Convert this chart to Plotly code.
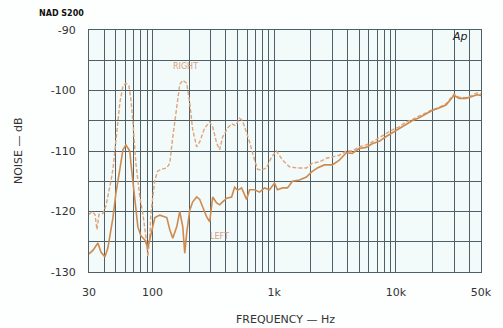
import plotly.graph_objects as go

# ---- data ----
right_freq = [30, 31.7, 33.6, 34.9, 36.2, 39.1, 41.4, 42.9, 45.4, 47.2, 49.9, 51.8, 53.8, 57.0, 60.3,
              63.8, 66.3, 68.8, 72.8, 78.5, 83.1, 88.0, 91.4, 94.9, 96.7, 100.4, 104.3, 110.3, 119.0,
              130.8, 138.4, 146.4, 158.0, 167.1, 176.9, 190.7, 201.9, 213.6, 230.4, 243.8, 267.9,
              294.4, 311.6, 336.0, 355.5, 376.2, 413.5, 445.9, 480.9, 518.6, 548.7, 591.8, 626.2,
              688.2, 728.3, 785.5, 863.3, 948.7, 1043, 1168, 1333, 1521, 1837, 2057, 2347, 2679,
              3000, 3424, 3907, 4376, 4993, 5698, 6381, 7283, 8312, 9311, 10624, 12125, 13581,
              15499, 17689, 19810, 22607, 25801, 28890, 30000, 32970, 37630, 42130, 46310, 50000]
right_db = [-120.5, -120.0, -120.5, -123.0, -120.5, -120.3, -119.0, -117.6, -115.0, -113.0, -108.0,
            -105.0, -102.0, -99.3, -98.8, -99.2, -101.5, -105.0, -112.0, -117.6, -120.3, -124.2,
            -127.5, -124.0, -120.5, -117.6, -114.8, -113.3, -113.0, -112.8, -112.0, -107.7, -102.1,
            -99.0, -98.3, -98.8, -102.1, -106.5, -109.3, -108.5, -106.2, -105.2, -106.0, -108.7,
            -109.8, -107.7, -106.2, -105.5, -105.8, -104.6, -105.0, -107.0, -108.5, -111.5, -113.0,
            -113.2, -112.8, -111.0, -110.0, -111.5, -112.6, -112.8, -112.8, -112.0, -111.8, -111.2,
            -111.0, -110.7, -110.0, -110.0, -109.3, -109.0, -108.5, -107.8, -107.0, -106.5, -106.0,
            -105.2, -104.8, -104.2, -103.6, -103.2, -102.8, -102.2, -101.0, -100.6, -101.1, -101.2,
            -100.8, -100.4, -100.6]

left_freq = [30, 32.4, 35.5, 37.6, 40.6, 42.9, 47.2, 49.9, 53.8, 57.0, 60.3, 65.0, 66.3, 71.5, 75.6,
             80.0, 86.3, 91.4, 96.7, 104.3, 114.6, 130.8, 138.4, 146.4, 158.0, 167.1, 176.9, 183.7,
             190.7, 201.9, 213.6, 230.4, 243.8, 258.0, 278.2, 294.4, 305.7, 311.6, 336.0, 355.5,
             376.2, 405.8, 445.9, 471.9, 499.4, 538.5, 591.8, 626.2, 688.2, 756.4, 831.3, 913.7,
             1004, 1062, 1168, 1283, 1410, 1609, 1837, 2018, 2260, 2580, 3000, 3424, 3907, 4376,
             4993, 5698, 6381, 7283, 8312, 9311, 10624, 12125, 13581, 15499, 17689, 19810, 22607,
             25801, 28890, 30000, 32970, 37630, 42130, 46310, 50000]
left_db = [-127.0, -126.4, -125.2, -126.7, -127.5, -126.0, -121.0, -117.0, -113.0, -109.8, -109.0,
           -110.0, -112.0, -118.6, -122.5, -124.0, -124.7, -126.0, -124.0, -121.0, -120.6, -121.0,
           -123.0, -124.4, -122.5, -120.0, -122.5, -126.9, -123.5, -119.8, -118.4, -117.6, -118.0,
           -119.3, -120.9, -121.7, -119.5, -117.6, -118.6, -118.9, -118.4, -117.8, -117.6, -116.0,
           -116.5, -116.1, -118.0, -116.4, -116.4, -116.8, -116.1, -116.4, -115.3, -116.4, -116.1,
           -116.1, -115.0, -114.8, -114.3, -113.5, -112.8, -112.3, -112.3, -111.5, -110.3, -110.4,
           -109.6, -109.4, -108.8, -108.4, -107.6, -107.0, -106.3, -105.5, -105.0, -104.5, -103.8,
           -103.3, -102.9, -102.4, -101.2, -100.8, -101.3, -101.3, -101.0, -100.7, -100.8]

x_tick_vals = [30, 100, 1000, 10000, 50000]
x_tick_labels = ["30", "100", "1k", "10k", "50k"]
y_tick_vals = [-130, -120, -110, -100, -90]
y_tick_labels = ["-130", "-120", "-110", "-100", "-90"]

# ---- grid positions (log paper) ----
x_grid = [m * 10 ** e for e in range(1, 5) for m in range(1, 10)]
x_grid = [v for v in x_grid if 30 <= v <= 50000]
x_vals = sorted(set(x_grid + x_tick_vals))
x_text = [x_tick_labels[x_tick_vals.index(v)] if v in x_tick_vals else "" for v in x_vals]
y_vals = list(range(-130, -89, 5))
y_text = [y_tick_labels[y_tick_vals.index(v)] if v in y_tick_vals else "" for v in y_vals]

GRID = "#4e5f67"
fig = go.Figure()
fig.add_trace(go.Scatter(x=right_freq, y=right_db, mode="lines", name="RIGHT",
                         line=dict(color="#e0a478", width=1.4, dash="4px,2px")))
fig.add_trace(go.Scatter(x=left_freq, y=left_db, mode="lines", name="LEFT",
                         line=dict(color="#cf8a4e", width=1.6)))

tickfont = dict(family="DejaVu Sans", size=11, color="#333333")
fig.update_xaxes(type="log", range=[1.4771, 4.69897], tickvals=x_vals, ticktext=x_text,
                 showgrid=True, gridcolor=GRID, gridwidth=1.1, zeroline=False,
                 showline=True, linecolor=GRID, linewidth=1.2, mirror=True,
                 ticks="", tickfont=tickfont, ticklabelstandoff=10)
fig.update_yaxes(range=[-130, -90], tickvals=y_vals, ticktext=y_text,
                 showgrid=True, gridcolor=GRID, gridwidth=1.3, zeroline=False,
                 showline=True, linecolor=GRID, linewidth=1.2, mirror=True,
                 ticks="", tickfont=tickfont, ticklabelstandoff=10)

ann = [
    dict(text="RIGHT", x=0.245, y=0.851, font=dict(size=8, color="#d9a07a", family="DejaVu Sans")),
    dict(text="LEFT", x=0.332, y=0.145, font=dict(size=8, color="#d9a07a", family="DejaVu Sans")),
    dict(text="<i>Ap</i>", x=0.947, y=0.972, font=dict(size=11, color="#222222", family="DejaVu Sans")),
    dict(text="<b>NAD S200</b>", x=-0.069, y=1.07, font=dict(size=8, color="#111111", family="DejaVu Sans")),
    dict(text="FREQUENCY — Hz", x=0.5, y=-0.198, font=dict(size=11, color="#333333", family="DejaVu Sans")),
    dict(text="NOISE — dB", x=-0.181, y=0.5, textangle=-90,
         font=dict(size=11, color="#333333", family="DejaVu Sans")),
]
for a in ann:
    fig.add_annotation(xref="paper", yref="paper", showarrow=False, xanchor="center",
                       yanchor="middle", **a)

fig.update_layout(width=503, height=328, margin=dict(l=89, r=22, t=30, b=56),
                  plot_bgcolor="#f2fafa", paper_bgcolor="#fdfefe", showlegend=False)
fig.write_html("out.html", config={"displayModeBar": False},
               post_script="document.body.style.margin='0';document.body.style.overflow='hidden';")
